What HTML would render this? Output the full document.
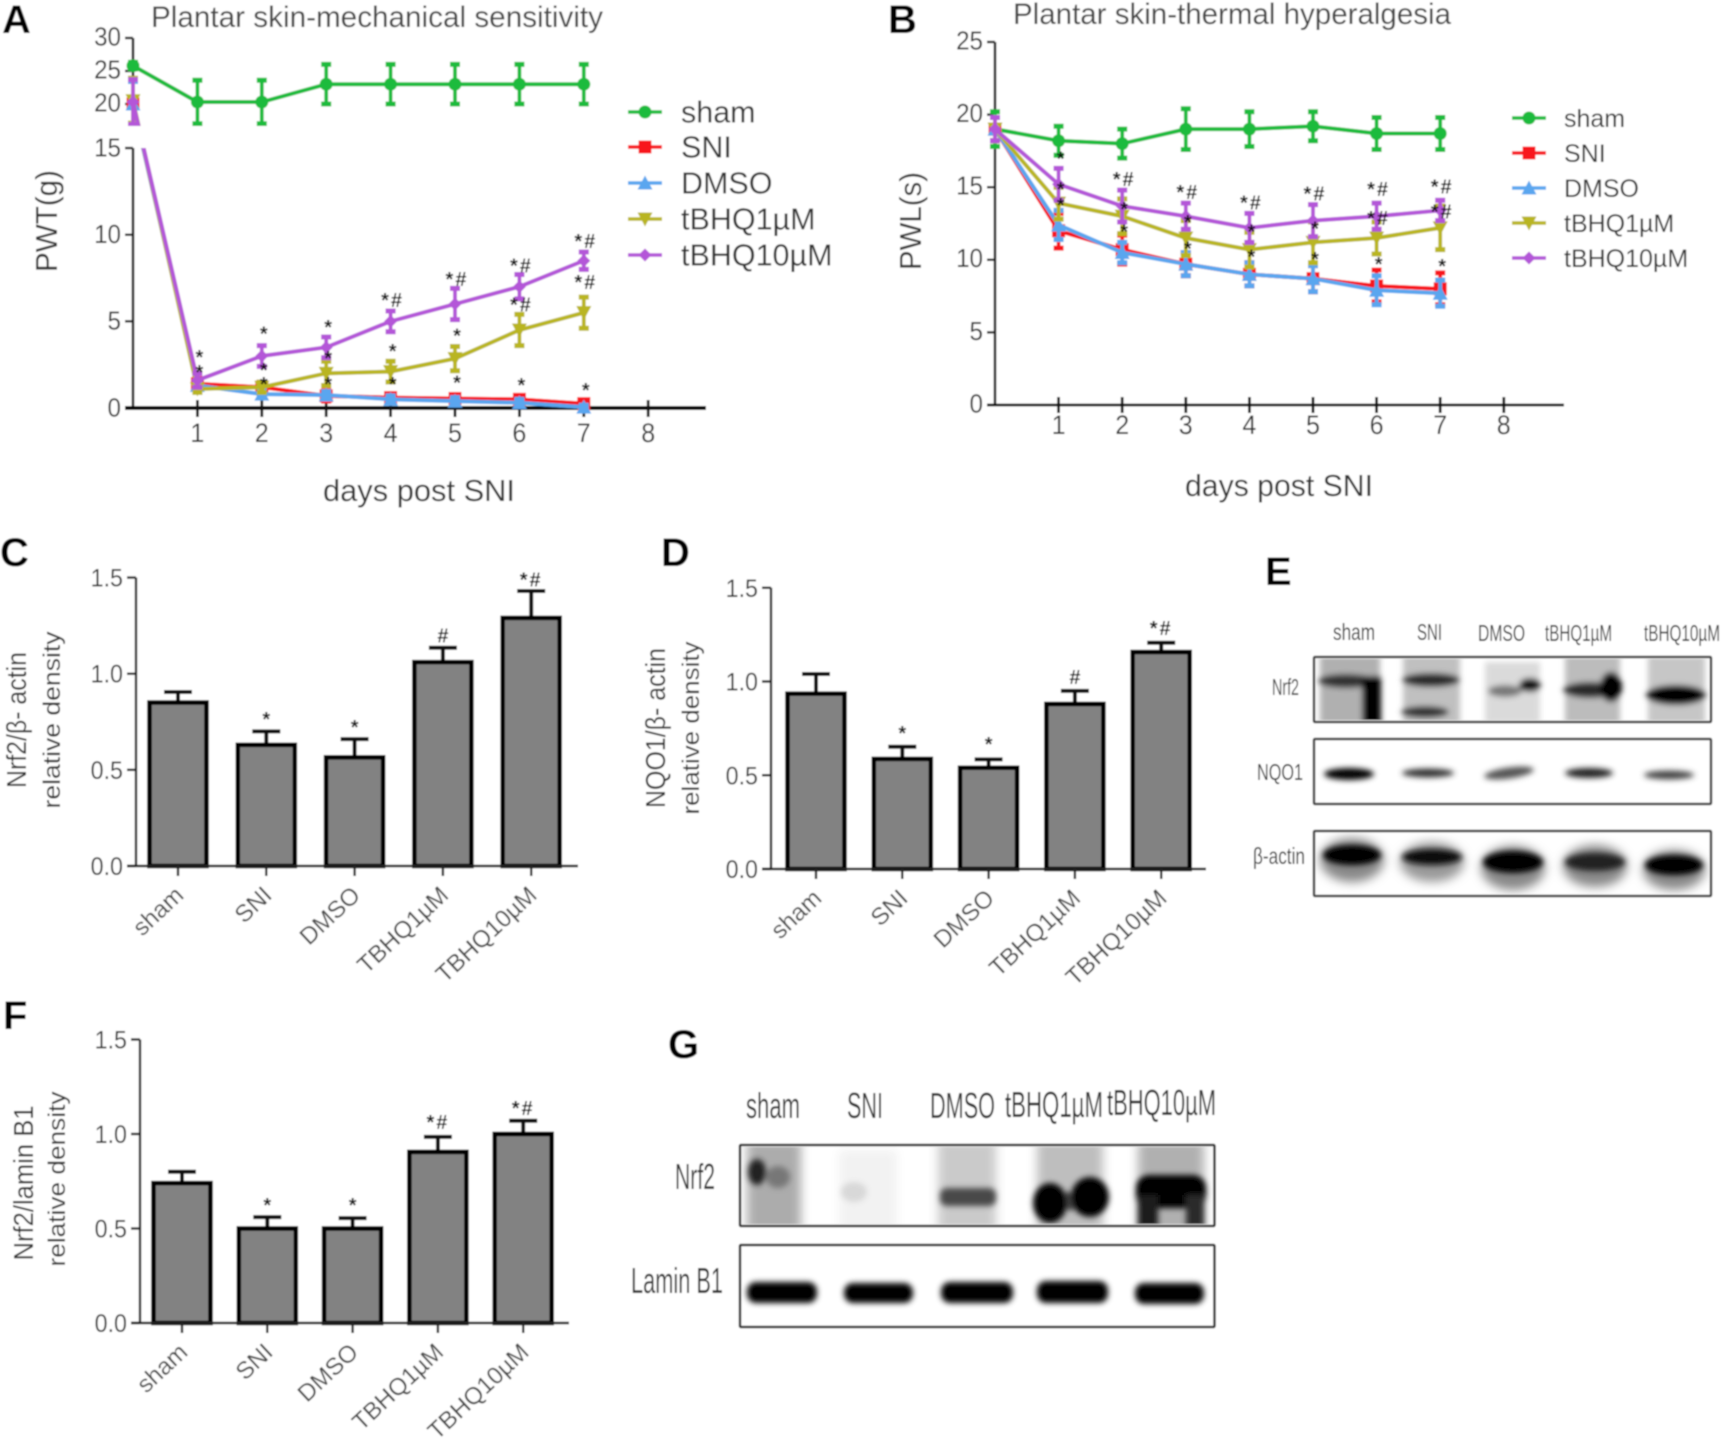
<!DOCTYPE html>
<html lang="en">
<head>
<meta charset="utf-8">
<title>Plantar skin sensitivity and Nrf2 pathway figure</title>
<style>
html,body{margin:0;padding:0;background:#fff;width:1724px;height:1439px;overflow:hidden}
svg{display:block}
text{font-family:"Liberation Sans",sans-serif}
.plabel{font-size:40px;font-weight:700;fill:#000}
.title{font-size:30px;fill:#444}
.axt{font-size:31px;fill:#333}
.bart{font-size:24px;fill:#333}
.bart1{font-size:28px;fill:#333}
.lane{fill:#333}
</style>
</head>
<body>
<svg id="figure" xmlns="http://www.w3.org/2000/svg" width="1724" height="1439" viewBox="0 0 1724 1439">
<defs>
<filter id="soft" filterUnits="userSpaceOnUse" x="0" y="0" width="1724" height="1439"><feGaussianBlur stdDeviation="0.8"/></filter>
<filter id="b2" x="-50%" y="-100%" width="200%" height="300%"><feGaussianBlur stdDeviation="2.8"/></filter>
<filter id="b4" x="-50%" y="-100%" width="200%" height="300%"><feGaussianBlur stdDeviation="5"/></filter>
<clipPath id="clipA"><rect x="100" y="0" width="620" height="126"/><rect x="100" y="148" width="620" height="290"/></clipPath>
<clipPath id="clipE1"><rect x="1316" y="659" width="393" height="61"/></clipPath>
<clipPath id="clipE2"><rect x="1316" y="741" width="393" height="61"/></clipPath>
<clipPath id="clipE3"><rect x="1316" y="833" width="393" height="61"/></clipPath>
<clipPath id="clipG1"><rect x="742" y="1147" width="471" height="77"/></clipPath>
<clipPath id="clipG2"><rect x="742" y="1247" width="471" height="78"/></clipPath>
</defs>
<g filter="url(#soft)">
<rect width="1724" height="1439" fill="#fff"/>

<!-- Panel A -->
<text class="plabel" x="2" y="33">A</text>
<text class="title" x="151" y="27" textLength="452" lengthAdjust="spacingAndGlyphs">Plantar skin-mechanical sensitivity</text>
<text class="axt" transform="translate(57 221) rotate(-90)" text-anchor="middle" textLength="102" lengthAdjust="spacingAndGlyphs">PWT(g)</text>
<text class="axt" x="323" y="501" textLength="192" lengthAdjust="spacingAndGlyphs">days post SNI</text>
<g id="panelA"></g>

<!-- Panel B -->
<text class="plabel" x="888" y="33">B</text>
<text class="title" x="1013" y="24" textLength="438" lengthAdjust="spacingAndGlyphs">Plantar skin-thermal hyperalgesia</text>
<text class="axt" transform="translate(921 221) rotate(-90)" text-anchor="middle" textLength="98" lengthAdjust="spacingAndGlyphs">PWL(s)</text>
<text class="axt" x="1185" y="496" textLength="188" lengthAdjust="spacingAndGlyphs">days post SNI</text>
<g id="panelB"></g>

<!-- Panel C -->
<text class="plabel" x="0" y="566">C</text>
<text class="bart1" transform="translate(26 720) rotate(-90)" text-anchor="middle" textLength="136" lengthAdjust="spacingAndGlyphs">Nrf2/β- actin</text>
<text class="bart" transform="translate(60 720) rotate(-90)" text-anchor="middle" textLength="177" lengthAdjust="spacingAndGlyphs">relative density</text>
<g id="panelC"></g>

<!-- Panel D -->
<text class="plabel" x="661" y="566">D</text>
<text class="bart1" transform="translate(665 728) rotate(-90)" text-anchor="middle" textLength="160" lengthAdjust="spacingAndGlyphs">NQO1/β- actin</text>
<text class="bart" transform="translate(699 728) rotate(-90)" text-anchor="middle" textLength="173" lengthAdjust="spacingAndGlyphs">relative density</text>
<g id="panelD"></g>

<!-- Panel F -->
<text class="plabel" x="3" y="1029">F</text>
<text class="bart1" transform="translate(33 1183) rotate(-90)" text-anchor="middle" textLength="155" lengthAdjust="spacingAndGlyphs">Nrf2/lamin B1</text>
<text class="bart" transform="translate(65 1179) rotate(-90)" text-anchor="middle" textLength="175" lengthAdjust="spacingAndGlyphs">relative density</text>
<g id="panelF"></g>

<!-- Panel E -->
<g>
<text class="plabel" x="1265" y="585">E</text>
<g font-size="23">
<text class="lane" x="1333" y="640" textLength="42" lengthAdjust="spacingAndGlyphs">sham</text>
<text class="lane" x="1417" y="640" textLength="25" lengthAdjust="spacingAndGlyphs">SNI</text>
<text class="lane" x="1478" y="641" textLength="47" lengthAdjust="spacingAndGlyphs">DMSO</text>
<text class="lane" x="1545" y="641" textLength="67" lengthAdjust="spacingAndGlyphs">tBHQ1µM</text>
<text class="lane" x="1644" y="641" textLength="76" lengthAdjust="spacingAndGlyphs">tBHQ10µM</text>
</g>
<g font-size="23">
<text class="lane" x="1272" y="695" textLength="27" lengthAdjust="spacingAndGlyphs">Nrf2</text>
<text class="lane" x="1257" y="780" textLength="46" lengthAdjust="spacingAndGlyphs">NQO1</text>
<text class="lane" x="1253" y="864" textLength="52" lengthAdjust="spacingAndGlyphs">β-actin</text>
</g>
<g clip-path="url(#clipE1)">
<g filter="url(#b2)">
<rect x="1320" y="655" width="60" height="70" fill="#b0b0b0"/>
<rect x="1403" y="655" width="57" height="70" fill="#c0c0c0"/>
<rect x="1485" y="662" width="55" height="62" fill="#dadada"/>
<rect x="1565" y="655" width="55" height="70" fill="#bcbcbc"/>
<rect x="1648" y="655" width="57" height="70" fill="#c6c6c6"/>
<ellipse cx="1346" cy="681" rx="28" ry="7" fill="#333"/>
<rect x="1362" y="676" width="19" height="50" fill="#000"/>
<ellipse cx="1431" cy="680" rx="29" ry="7" fill="#2a2a2a"/>
<ellipse cx="1425" cy="712" rx="24" ry="6" fill="#333"/>
<ellipse cx="1505" cy="691" rx="17" ry="6" fill="#777"/>
<ellipse cx="1530" cy="685" rx="11" ry="7" fill="#111"/>
<ellipse cx="1590" cy="690" rx="27" ry="8" fill="#2a2a2a"/>
<ellipse cx="1611" cy="687" rx="11" ry="15" fill="#000"/>
<ellipse cx="1676" cy="695" rx="30" ry="10" fill="#000"/>
</g>
</g>
<rect x="1314" y="657" width="397" height="65" fill="none" stroke="#444" stroke-width="2.5" rx="1"/>
<g clip-path="url(#clipE2)">
<g filter="url(#b2)">
<ellipse cx="1349" cy="774" rx="25" ry="6" fill="#000"/>
<ellipse cx="1428" cy="773" rx="26" ry="4.5" fill="#333"/>
<ellipse cx="1509" cy="773" rx="25" ry="5.5" fill="#555" transform="rotate(-8 1509 773)"/>
<ellipse cx="1589" cy="773" rx="24" ry="5" fill="#222"/>
<ellipse cx="1669" cy="775" rx="25" ry="4.5" fill="#444"/>
</g>
</g>
<rect x="1314" y="739" width="397" height="65" fill="none" stroke="#444" stroke-width="2.5" rx="1"/>
<g clip-path="url(#clipE3)">
<g filter="url(#b4)">
<ellipse cx="1352" cy="860" rx="32" ry="22" fill="#888"/>
<ellipse cx="1432" cy="862" rx="32" ry="20" fill="#999"/>
<ellipse cx="1513" cy="868" rx="32" ry="22" fill="#888"/>
<ellipse cx="1595" cy="866" rx="32" ry="21" fill="#888"/>
<ellipse cx="1674" cy="870" rx="31" ry="20" fill="#888"/>
</g>
<g filter="url(#b2)">
<ellipse cx="1352" cy="855" rx="29" ry="10" fill="#000"/>
<ellipse cx="1432" cy="857" rx="30" ry="8" fill="#111"/>
<ellipse cx="1513" cy="862" rx="30" ry="11" fill="#000"/>
<ellipse cx="1595" cy="862" rx="30" ry="9" fill="#222"/>
<ellipse cx="1674" cy="865" rx="29" ry="10" fill="#000"/>
</g>
</g>
<rect x="1314" y="831" width="397" height="65" fill="none" stroke="#444" stroke-width="2.5" rx="1"/>
</g>

<!-- Panel G -->
<g>
<text class="plabel" x="668" y="1058">G</text>
<g font-size="36">
<text class="lane" x="746" y="1118" textLength="54" lengthAdjust="spacingAndGlyphs">sham</text>
<text class="lane" x="847" y="1118" textLength="36" lengthAdjust="spacingAndGlyphs">SNI</text>
<text class="lane" x="930" y="1118" textLength="65" lengthAdjust="spacingAndGlyphs">DMSO</text>
<text class="lane" x="1005" y="1117" textLength="98" lengthAdjust="spacingAndGlyphs">tBHQ1µM</text>
<text class="lane" x="1107" y="1115" textLength="109" lengthAdjust="spacingAndGlyphs">tBHQ10µM</text>
</g>
<text class="lane" font-size="36" x="675" y="1189" textLength="40" lengthAdjust="spacingAndGlyphs">Nrf2</text>
<text class="lane" font-size="36" x="631" y="1293" textLength="92" lengthAdjust="spacingAndGlyphs">Lamin B1</text>
<g clip-path="url(#clipG1)">
<g filter="url(#b4)">
<rect x="747" y="1140" width="54" height="95" fill="#acacac"/>
<rect x="839" y="1150" width="58" height="85" fill="#f2f2f2"/>
<rect x="938" y="1140" width="58" height="95" fill="#cacaca"/>
<rect x="1037" y="1140" width="66" height="95" fill="#bebebe"/>
<rect x="1138" y="1140" width="66" height="95" fill="#b0b0b0"/>
</g>
<g filter="url(#b2)">
<ellipse cx="757" cy="1172" rx="9" ry="13" fill="#222"/>
<ellipse cx="778" cy="1177" rx="12" ry="11" fill="#777"/>
<ellipse cx="854" cy="1192" rx="13" ry="10" fill="#d8d8d8"/>
<rect x="940" y="1188" width="56" height="18" rx="7" fill="#4a4a4a"/>
<rect x="1046" y="1192" width="44" height="18" fill="#444"/>
<ellipse cx="1050" cy="1203" rx="17" ry="20" fill="#000"/>
<ellipse cx="1090" cy="1197" rx="19" ry="20" fill="#000"/>
<rect x="1136" y="1175" width="70" height="33" rx="13" fill="#000"/>
<rect x="1138" y="1195" width="20" height="36" fill="#1a1a1a"/>
<rect x="1186" y="1195" width="18" height="36" fill="#2a2a2a"/>
</g>
</g>
<rect x="740" y="1145" width="474.5" height="81" fill="none" stroke="#333" stroke-width="2.5" rx="1"/>
<g clip-path="url(#clipG2)">
<g filter="url(#b2)">
<rect x="747" y="1282" width="70" height="21" rx="9" fill="#000"/>
<rect x="844" y="1283" width="69" height="20" rx="9" fill="#000"/>
<rect x="941" y="1282" width="72" height="21" rx="9" fill="#000"/>
<rect x="1037" y="1281" width="71" height="22" rx="9" fill="#000"/>
<rect x="1135" y="1283" width="69" height="21" rx="9" fill="#000"/>
</g>
</g>
<rect x="740" y="1245" width="474.5" height="82" fill="none" stroke="#333" stroke-width="2.5" rx="1"/>
</g>
</g>
</svg>
<script>
// ---------- Shared labels ----------
const seriesNames = ['sham', 'SNI', 'DMSO', 'tBHQ1µM', 'tBHQ10µM'];
const dayValues = [0, 1, 2, 3, 4, 5, 6, 7];
const dayTicks = [1, 2, 3, 4, 5, 6, 7, 8];

// ---------- Panel A (PWT) ----------
const aTicksUpper = [20, 25, 30];
const aTicksLower = [0, 5, 10, 15];
const aShamMean = [25.8, 20.3, 20.3, 23, 23, 23, 23, 23];
const aShamErr = [0.5, 3.3, 3.3, 3, 3, 3, 3, 3];
const aSniMean = [20, 1.4, 1.2, 0.7, 0.6, 0.55, 0.5, 0.25];
const aSniErr = [3.4, 0.3, 0.3, 0.3, 0.2, 0.2, 0.2, 0.2];
const aDmsoMean = [20, 1.3, 0.8, 0.75, 0.5, 0.4, 0.3, 0.05];
const aDmsoErr = [3.4, 0.2, 0.2, 0.2, 0.2, 0.2, 0.2, 0.1];
const aT1Mean = [20.5, 1.1, 1.2, 2.0, 2.1, 2.85, 4.5, 5.5];
const aT1Err = [3.4, 0.2, 0.3, 0.7, 0.6, 0.7, 0.9, 0.9];
const aT10Mean = [20.3, 1.6, 3.0, 3.5, 5.0, 6.0, 7.0, 8.5];
const aT10Err = [3.4, 0.4, 0.6, 0.6, 0.6, 0.9, 0.7, 0.5];
const aNoteDays = [1, 1, 2, 2, 2, 3, 3, 3, 4, 4, 4, 5, 5, 5, 6, 6, 6, 7, 7, 7];
const aNoteLevels = [3.06, 2.2, 4.4, 2.3, 1.5, 4.8, 3.0, 1.5, 6.35, 3.4, 1.5, 7.55, 4.3, 1.6, 8.35, 6.1, 1.45, 9.75, 7.4, 1.15];
const aNoteTexts = ['*', '*', '*', '*', '*', '*', '*', '*', '*#', '*', '*', '*#', '*', '*', '*#', '*#', '*', '*#', '*#', '*'];

// ---------- Panel B (PWL) ----------
const bTicks = [0, 5, 10, 15, 20, 25];
const bShamMean = [19, 18.2, 18, 19, 19, 19.2, 18.7, 18.7];
const bShamErr = [1.2, 1, 1, 1.4, 1.2, 1, 1.1, 1.1];
const bSniMean = [19, 12, 10.7, 9.7, 9, 8.7, 8.2, 8];
const bSniErr = [0.8, 1.2, 1, 0.8, 0.8, 0.9, 1.1, 1.1];
const bDmsoMean = [19, 12.4, 10.5, 9.7, 9, 8.7, 7.9, 7.7];
const bDmsoErr = [0.8, 1, 0.7, 0.8, 0.8, 0.9, 1, 0.9];
const bT1Mean = [19, 13.9, 13, 11.5, 10.7, 11.2, 11.5, 12.2];
const bT1Err = [0.8, 1.1, 1.2, 1.2, 1.2, 1.4, 1.1, 1.5];
const bT10Mean = [19, 15.2, 13.7, 13, 12.2, 12.7, 13, 13.4];
const bT10Err = [0.8, 1.1, 1.1, 0.9, 1, 1.1, 0.9, 0.7];
const bNoteDays = [1, 1, 1, 2, 2, 2, 3, 3, 3, 4, 4, 4, 5, 5, 5, 6, 6, 6, 7, 7, 7];
const bNoteLevels = [17.1, 15, 13.9, 15.7, 13.65, 12.1, 14.8, 12.75, 10.9, 14.1, 12.1, 10.35, 14.7, 12.3, 10.2, 15, 13, 9.85, 15.2, 13.45, 9.7];
const bNoteTexts = ['*', '*', '*', '*#', '*', '*', '*#', '*', '*', '*#', '*', '*', '*#', '*', '*', '*#', '*#', '*', '*#', '*#', '*'];

// ---------- Bar panels ----------
const barCategories = ['sham', 'SNI', 'DMSO', 'TBHQ1µM', 'TBHQ10µM'];
const barTicks = [0, 0.5, 1, 1.5];
const cValues = [0.85, 0.63, 0.565, 1.06, 1.29];
const cErrors = [0.055, 0.07, 0.095, 0.075, 0.14];
const cNoteTexts = ['', '*', '*', '#', '*#'];
const cNoteLevels = [0, 0.775, 0.733, 1.21, 1.5];
const dValues = [0.935, 0.587, 0.54, 0.88, 1.157];
const dErrors = [0.105, 0.065, 0.045, 0.07, 0.05];
const dNoteTexts = ['', '*', '*', '#', '*#'];
const dNoteLevels = [0, 0.736, 0.677, 1.035, 1.296];
const fValues = [0.74, 0.5, 0.5, 0.905, 1.0];
const fErrors = [0.06, 0.06, 0.055, 0.08, 0.07];
const fNoteTexts = ['', '*', '*', '*#', '*#'];
const fNoteLevels = [0, 0.635, 0.635, 1.074, 1.148];

const NS = 'http://www.w3.org/2000/svg';
const seriesColors = ['#1fbb3c', '#f8141c', '#5aa6ef', '#b9b520', '#b456d8'];

function mk(tag, attrs, parent) {
  const e = document.createElementNS(NS, tag);
  for (const k in attrs) e.setAttribute(k, attrs[k]);
  parent.appendChild(e);
  return e;
}

function squeeze(t, f) {
  t.setAttribute('textLength', t.getComputedTextLength() * f);
  t.setAttribute('lengthAdjust', 'spacingAndGlyphs');
}

function markerShape(kind, x, y, color, parent) {
  const s = 6.5;
  let m;
  if (kind === 0) m = mk('circle', { cx: x, cy: y, r: s, fill: color }, parent);
  else if (kind === 1) m = mk('rect', { x: x - s, y: y - s, width: 2 * s, height: 2 * s, fill: color }, parent);
  else if (kind === 2) m = mk('polygon', { points: (x) + ',' + (y - s - 1) + ' ' + (x + s + 1) + ',' + (y + s) + ' ' + (x - s - 1) + ',' + (y + s), fill: color }, parent);
  else if (kind === 3) m = mk('polygon', { points: (x) + ',' + (y + s + 1) + ' ' + (x + s + 1) + ',' + (y - s) + ' ' + (x - s - 1) + ',' + (y - s), fill: color }, parent);
  else m = mk('polygon', { points: (x) + ',' + (y - s) + ' ' + (x + s) + ',' + y + ' ' + (x) + ',' + (y + s) + ' ' + (x - s) + ',' + y, fill: color }, parent);
  return m;
}

function drawSeries(parent, idx, means, errs, xFn, yFn) {
  const color = seriesColors[idx];
  const g = mk('g', {}, parent);
  
  
  const pts = means.map(function (v, i) { return xFn(dayValues[i]) + ',' + yFn(v); }).join(' ');
  const line = mk('polyline', { points: pts, fill: 'none', stroke: color, 'stroke-width': 4 }, g);
  
  
  means.forEach(function (v, i) {
    const x = xFn(dayValues[i]);
    const top = yFn(v + errs[i]);
    const bot = yFn(v - errs[i]);
    const bar = mk('path', { d: 'M' + x + ' ' + top + 'V' + bot, fill: 'none', stroke: color, 'stroke-width': 3.8 }, g);
    
    
    const caps = mk('path', { d: 'M' + (x - 5) + ' ' + top + 'H' + (x + 5) + 'M' + (x - 5) + ' ' + bot + 'H' + (x + 5), fill: 'none', stroke: color, 'stroke-width': 5 }, g);
    
    
    const m = markerShape(idx, x, yFn(v), color, g);
    
    
  });
}

function drawNotes(parent, xs, levels, texts, size) {
  texts.forEach(function (t, i) {
    if (!t) return;
    const n = mk('text', { x: xs(i), y: levels(i) + size * 0.45, 'text-anchor': 'middle', 'font-size': size, 'font-weight': 'bold', 'letter-spacing': t.length > 1 ? 2 : 0, fill: '#111' }, parent);
    n.textContent = t;
    
    
  });
}

function yTick(parent, x, y, label, size, len, dy) {
  const t = mk('line', { x1: x - len, x2: x, y1: y, y2: y, stroke: '#222', 'stroke-width': 2.4 }, parent);
  
  
  const l = mk('text', { x: x - len - 4, y: y + size * 0.36 + dy, 'text-anchor': 'end', 'font-size': size, fill: '#333' }, parent);
  l.textContent = label;
  
  
  squeeze(l, 0.93);
}

function xDayTicks(parent, xFn, axisY, labelY, size, up, down) {
  dayTicks.forEach(function (d) {
    const x = xFn(d);
    const t = mk('line', { x1: x, x2: x, y1: axisY - up, y2: axisY + down, stroke: '#111', 'stroke-width': 2.8 }, parent);
    
    
    const l = mk('text', { x: x, y: labelY, 'text-anchor': 'middle', 'font-size': size, fill: '#333' }, parent);
    l.textContent = d;
    
    
    squeeze(l, 0.93);
  });
}

function drawLegend(parent, lineX, textX, ys, size) {
  seriesNames.forEach(function (name, i) {
    const g = mk('g', {}, parent);
    
    
    const ln = mk('line', { x1: lineX, x2: lineX + 34, y1: ys[i], y2: ys[i], stroke: seriesColors[i], 'stroke-width': 3.6 }, g);
    
    
    const m = markerShape(i, lineX + 17, ys[i], seriesColors[i], g);
    
    
    const t = mk('text', { x: textX, y: ys[i] + size * 0.35, 'font-size': size, fill: '#333' }, g);
    t.textContent = name;
    
    
  });
}

// Panel A: segmented y axis
(function () {
  const p = document.getElementById('panelA');
  const xA = function (d) { return 133 + d * 64.4; };
  const yA = function (v) { return v <= 15 ? 408 - v * 17.33 : 104 - (v - 20) * 6.6; };
  const axes = mk('path', { d: 'M133 38V126M133 148V408', fill: 'none', stroke: '#222', 'stroke-width': 2.6 }, p);
  
  
  aTicksUpper.forEach(function (v) { yTick(p, 133, yA(v), v, 26, 8, -2); });
  aTicksLower.forEach(function (v) { yTick(p, 133, yA(v), v, 26, 8, -1); });
  const xaxis = mk('line', { x1: 125, x2: 706, y1: 408, y2: 408, stroke: '#000', 'stroke-width': 4 }, p);
  
  
  xDayTicks(p, xA, 408, 442, 27, 8, 9);
  const plot = mk('g', { 'clip-path': 'url(#clipA)' }, p);
  
  
  drawSeries(plot, 0, aShamMean, aShamErr, xA, yA);
  drawSeries(plot, 1, aSniMean, aSniErr, xA, yA);
  drawSeries(plot, 2, aDmsoMean, aDmsoErr, xA, yA);
  drawSeries(plot, 3, aT1Mean, aT1Err, xA, yA);
  drawSeries(plot, 4, aT10Mean, aT10Err, xA, yA);
  drawNotes(p, function (i) { return xA(aNoteDays[i]) + 2; }, function (i) { return yA(aNoteLevels[i]); }, aNoteTexts, 20);
  drawLegend(p, 628, 681, [112, 147, 183, 219, 255], 30.5);
})();

// Panel B
(function () {
  const p = document.getElementById('panelB');
  const xB = function (d) { return 995 + d * 63.6; };
  const yB = function (v) { return 405 - v * 14.52; };
  const axis = mk('line', { x1: 995, x2: 995, y1: 42, y2: 405, stroke: '#222', 'stroke-width': 2.6 }, p);
  
  
  bTicks.forEach(function (v) { yTick(p, 995, yB(v), v, 26, 8, -2); });
  const xaxis = mk('line', { x1: 987, x2: 1564, y1: 405, y2: 405, stroke: '#111', 'stroke-width': 2.8 }, p);
  
  
  xDayTicks(p, xB, 405, 434, 27, 8, 8);
  drawSeries(p, 0, bShamMean, bShamErr, xB, yB);
  drawSeries(p, 1, bSniMean, bSniErr, xB, yB);
  drawSeries(p, 2, bDmsoMean, bDmsoErr, xB, yB);
  drawSeries(p, 3, bT1Mean, bT1Err, xB, yB);
  drawSeries(p, 4, bT10Mean, bT10Err, xB, yB);
  drawNotes(p, function (i) { return xB(bNoteDays[i]) + 2; }, function (i) { return yB(bNoteLevels[i]); }, bNoteTexts, 20);
  drawLegend(p, 1512, 1564, [118, 153, 188, 223, 258], 25);
})();

// Bar panels
function drawBars(panelId, layout, values, errors, noteTexts, noteLevels) {
  const p = document.getElementById(panelId);
  const y = function (v) { return layout.y0 - v * layout.scale; };
  const xc = function (i) { return layout.x0 + i * layout.step; };
  const ax = mk('line', { x1: layout.axisX, x2: layout.axisX, y1: y(1.5), y2: y(0), stroke: '#222', 'stroke-width': 2.4 }, p);
  
  
  barTicks.forEach(function (v) { yTick(p, layout.axisX, y(v), v.toFixed(1), 25, 9, 0); });
  values.forEach(function (v, i) {
    const x = xc(i);
    const top = y(v);
    const eTop = y(v + errors[i]);
    const err = mk('path', { d: 'M' + x + ' ' + top + 'V' + eTop + 'M' + (x - 14) + ' ' + eTop + 'H' + (x + 14), fill: 'none', stroke: '#111', 'stroke-width': 4 }, p);
    
    
    const bar = mk('rect', { x: x - 28.5, y: top, width: 57, height: y(0) - top, fill: '#828282', stroke: '#000', 'stroke-width': 4.6 }, p);
    
    
  });
  const xa = mk('line', { x1: layout.axisX - 9, x2: layout.axisEnd, y1: y(0), y2: y(0), stroke: '#222', 'stroke-width': 2.4 }, p);
  
  
  barCategories.forEach(function (c, i) {
    const x = xc(i);
    const t = mk('line', { x1: x, x2: x, y1: y(0), y2: y(0) + 10, stroke: '#222', 'stroke-width': 2.4 }, p);
    
    
    const px = x + 7;
    const py = y(0) + 31;
    const l = mk('text', { x: px, y: py, 'text-anchor': 'end', 'font-size': 24, fill: '#444', transform: 'rotate(-43 ' + px + ' ' + py + ')' }, p);
    l.textContent = c;
    
    
  });
  drawNotes(p, xc, function (i) { return y(noteLevels[i]); }, noteTexts, 20);
}

drawBars('panelC', { x0: 178, step: 88.3, y0: 866, scale: 192.3, axisX: 136, axisEnd: 578 }, cValues, cErrors, cNoteTexts, cNoteLevels);
drawBars('panelD', { x0: 816, step: 86.3, y0: 869, scale: 187.5, axisX: 771, axisEnd: 1206 }, dValues, dErrors, dNoteTexts, dNoteLevels);
drawBars('panelF', { x0: 182, step: 85.3, y0: 1323, scale: 189, axisX: 140, axisEnd: 569 }, fValues, fErrors, fNoteTexts, fNoteLevels);
</script>
</body>
</html>
